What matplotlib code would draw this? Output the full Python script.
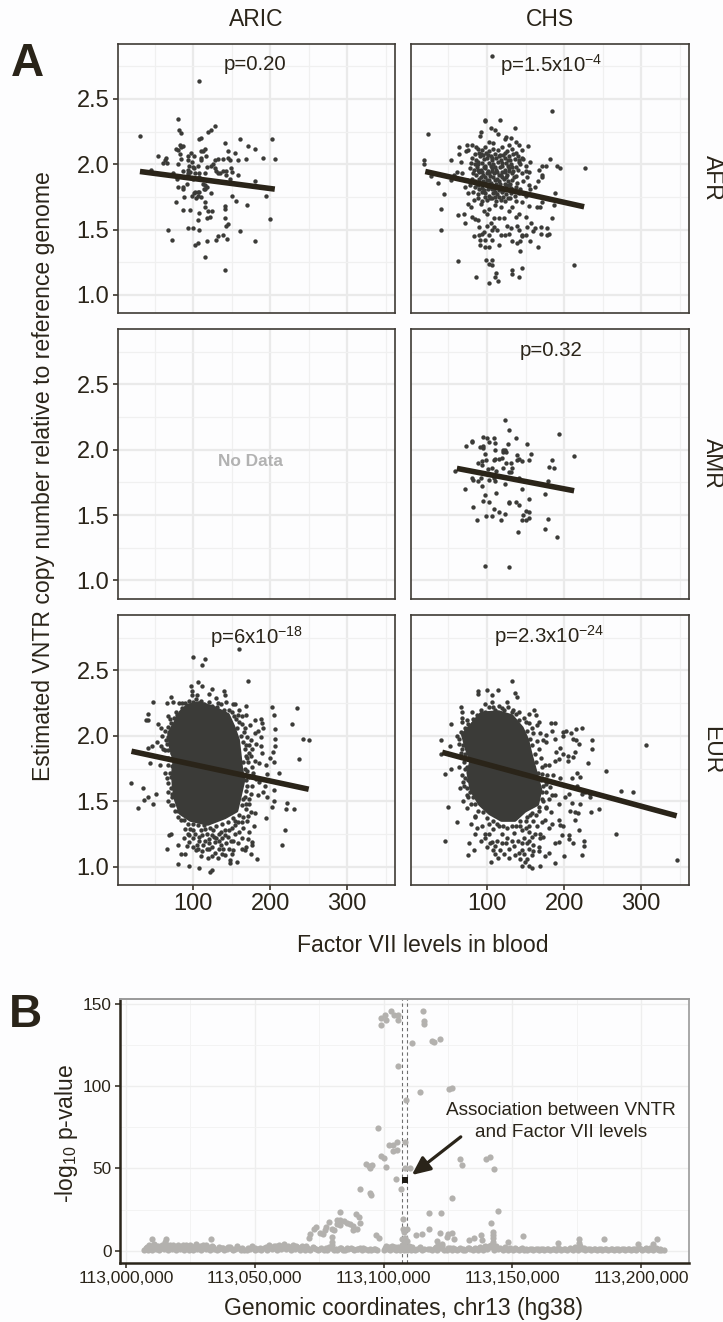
import numpy as np
import matplotlib
matplotlib.use('Agg')
import matplotlib.pyplot as plt

plt.rcParams['font.family'] = ['Liberation Sans', 'DejaVu Sans']
plt.rcParams['mathtext.default'] = 'regular'

W, H = 723, 1322
BG = '#fdfdfe'
INK = '#2a2419'
DOT = '#3b3b38'
GREY = '#b3b1ae'

# Panel A values: (factor VII, copy number)
afr_aric = [(107,2.64),(81,2.35),(129,2.29),(123,2.26),(119,2.25),(82,2.26),(84,2.24),(31,2.22),(110,2.20),(108,2.19),
    (142,2.16),(161,2.19),(203,2.19),(171,2.14),(180,2.12),(83,2.15),(87,2.14),(84,2.13),(78,2.12),(81,2.11),
    (116,2.12),(110,2.10),(113,2.10),(145,2.10),(155,2.09),(83,2.08),(97,2.09),(101,2.06),(94,2.06),(54,2.06),
    (65,2.05),(64,2.03),(61,2.01),(66,2.01),(117,2.06),(110,2.05),(110,2.03),(84,2.04),(191,2.05),(206,2.04),
    (168,2.04),(158,2.03),(148,2.03),(145,2.05),(139,2.04),(132,2.04),(128,2.03),(126,2.0),(123,1.99),(128,1.97),
    (130,1.95),(132,1.93),(94,2.03),(98,2.02),(80,2.0),(95,1.99),(100,1.98),(106,1.99),(118,1.98),(87,1.95),
    (93,1.96),(96,1.94),(101,1.97),(94,1.93),(102,1.93),(74,1.93),(45,1.96),(139,1.95),(143,1.95),(149,1.97),
    (150,1.94),(135,1.93),(143,1.92),(158,1.92),(148,1.89),(108,1.93),(115,1.93),(108,1.90),(100,1.89),(93,1.92),
    (79,1.89),(88,1.90),(180,1.87),(116,1.84),(113,1.85),(118,1.83),(114,1.81),(106,1.79),(92,1.85),(87,1.83),
    (81,1.83),(87,1.81),(102,1.79),(101,1.78),(108,1.79),(106,1.76),(110,1.75),(98,1.76),(104,1.74),(116,1.81),
    (123,1.78),(88,1.75),(78,1.71),(150,1.76),(195,1.76),(156,1.72),(170,1.69),(116,1.71),(116,1.67),(119,1.64),
    (125,1.64),(107,1.63),(87,1.65),(96,1.65),(141,1.68),(142,1.66),(141,1.59),(122,1.60),(118,1.59),(106,1.57),
    (200,1.58),(145,1.54),(143,1.53),(67,1.50),(94,1.51),(100,1.51),(107,1.50),(161,1.49),(72,1.42),(132,1.45),
    (139,1.46),(144,1.43),(130,1.42),(118,1.41),(180,1.41),(106,1.40),(103,1.38),(116,1.29),(142,1.19)]

afr_chs = [(107,2.83),(184,2.41),(97,2.34),(98,2.33),(117,2.34),(105,2.28),(110,2.26),(114,2.23),(136,2.28),(92,2.25),
    (91,2.22),(24,2.23),(125,2.21),(131,2.20),(124,2.19),(103,2.17),(108,2.16),(128,2.15),(138,2.17),(141,2.15),
    (153,2.14),(146,2.11),(64,2.13),(74,2.15),(80,2.15),(86,2.13),(64,2.08),(73,2.10),(76,2.11),
    (53,2.03),(18,2.03),(18,2.0),(66,2.02),(156,2.02),(147,2.04),(142,2.03),(150,1.99),(150,1.95),
    (182,2.04),(191,1.99),(195,1.97),(227,1.97),(172,1.99),(176,1.99),(167,1.96),(172,1.92),(171,1.90),(166,1.87),
    (154,1.94),(152,1.90),(61,1.94),(27,1.91),(36,1.86),(53,1.88),(57,1.92),(68,1.93),(44,1.77),(41,1.66),
    (41,1.50),(63,1.26),(213,1.23),(62,1.61),(154,1.84),(162,1.83),(156,1.81),(188,1.78),(187,1.69),(172,1.71),
    (165,1.67),(169,1.67),(184,1.59),(154,1.68),(70,1.62),(72,1.55),(75,1.70),(79,1.67),(81,1.60),(85,1.58),
    (88,1.57),(109,1.59),(116,1.59),(122,1.59),(100,1.62),(128,1.64),(137,1.60),(141,1.62),(133,1.67),(118,1.67),
    (111,1.69),(96,1.64),(103,1.66),(92,1.70),(150,1.60),(157,1.55),(162,1.51),(170,1.52),(178,1.51),(180,1.47),
    (178,1.46),(170,1.47),(160,1.49),(90,1.52),(96,1.48),(100,1.53),(105,1.55),(109,1.52),(113,1.50),(118,1.46),
    (107,1.50),(102,1.46),(83,1.45),(90,1.46),(94,1.47),(98,1.42),(91,1.42),(107,1.42),(115,1.38),(91,1.38),
    (97,1.37),(102,1.37),(126,1.53),(131,1.51),(128,1.47),(124,1.46),(139,1.53),(141,1.50),(146,1.45),(152,1.52),
    (150,1.46),(133,1.41),(139,1.40),(143,1.41),(156,1.41),(146,1.46),(166,1.37),(143,1.34),(99,1.27),(107,1.27),
    (102,1.24),(107,1.23),(86,1.14),(112,1.17),(111,1.14),(102,1.09),(114,1.11),(132,1.19),(132,1.16),(141,1.14),(146,1.21),
    (88,2.12),(93,2.11),(97,2.13),(102,2.10),(108,2.12),(114,2.11),(120,2.13),(126,2.10),(132,2.12),(137,2.09),
    (84,2.08),(90,2.09),(95,2.07),(99,2.09),(105,2.06),(110,2.08),(117,2.07),(123,2.09),(129,2.06),(134,2.08),(140,2.06),(146,2.05),
    (81,2.05),(86,2.03),(91,2.06),(96,2.04),(100,2.05),(106,2.03),(112,2.05),(118,2.03),(124,2.05),(130,2.03),(136,2.04),(141,2.02),
    (79,2.01),(84,2.0),(89,2.02),(94,2.01),(98,1.99),(103,2.01),(108,2.0),(114,2.02),(120,1.99),(125,2.01),(131,2.0),(137,1.98),(143,2.0),
    (78,1.97),(83,1.96),(87,1.98),(92,1.96),(97,1.97),(101,1.95),(106,1.97),(112,1.96),(117,1.98),(123,1.96),(128,1.97),(134,1.95),(140,1.96),
    (82,1.93),(86,1.92),(90,1.94),(95,1.92),(100,1.93),(104,1.91),(109,1.93),(115,1.92),(120,1.94),(126,1.92),(132,1.93),(138,1.91),(145,1.93),
    (74,1.88),(80,1.89),(85,1.87),(90,1.89),(95,1.87),(100,1.88),(105,1.86),(110,1.88),(116,1.87),(122,1.89),(127,1.87),(133,1.88),(139,1.86),(147,1.87),
    (72,1.83),(78,1.84),(84,1.83),(89,1.84),(94,1.82),(99,1.84),(104,1.83),(109,1.81),(114,1.83),(120,1.82),(125,1.84),(131,1.82),(137,1.83),(143,1.81),
    (76,1.78),(82,1.79),(88,1.77),(93,1.79),(98,1.78),(103,1.76),(108,1.78),(113,1.77),(119,1.79),(125,1.77),(131,1.78),(136,1.76),(142,1.78),(150,1.76),
    (83,1.73),(88,1.74),(94,1.72),(100,1.73),(106,1.74),(112,1.72),(118,1.73),(124,1.72),(130,1.74),(138,1.72),(145,1.71),
    (92,2.08),(101,2.07),(107,2.05),(115,2.06),(121,2.07),(127,2.03),(88,2.0),(96,1.98),(105,1.99),(111,1.98),(119,2.01),
    (127,1.99),(133,1.98),(89,1.96),(94,1.94),(102,1.93),(107,1.95),(113,1.94),(118,1.92),(124,1.94),(129,1.95),(135,1.9),
    (92,1.9),(98,1.9),(103,1.88),(108,1.9),(113,1.89),(119,1.9),(125,1.9),(130,1.85),(87,1.85),(92,1.85),(97,1.86),(102,1.85),
    (107,1.84),(112,1.85),(117,1.85),(123,1.85),(128,1.84),(96,1.8),(101,1.81),(106,1.81),(111,1.79),(116,1.8),(122,1.8),
    (128,1.8),(134,1.8),(90,1.81),(97,1.75),(104,1.74),(110,1.75),(116,1.75),(121,1.75),(127,1.74)]

amr_chs = [(123,2.23),(128,2.15),(193,2.12),(138,2.09),(95,2.10),(100,2.09),(109,2.09),(81,2.07),(81,2.06),(73,2.03),
    (102,2.06),(110,2.05),(127,2.04),(152,2.04),(95,2.03),(91,2.02),(95,2.01),(110,2.0),(121,2.0),(124,2.0),
    (121,1.98),(125,1.98),(98,1.97),(157,1.97),(213,1.95),(139,1.96),(141,1.93),(139,1.92),(146,1.91),(155,1.92),
    (184,1.92),(181,1.87),(187,1.86),(99,1.92),(94,1.91),(89,1.90),(93,1.88),(109,1.92),(110,1.93),(115,1.93),
    (119,1.94),(125,1.90),(131,1.90),(101,1.85),(107,1.86),(112,1.84),(121,1.86),(133,1.86),(128,1.83),(131,1.83),
    (59,1.84),(80,1.78),(82,1.77),(88,1.76),(92,1.78),(103,1.77),(109,1.78),(111,1.76),(124,1.74),(142,1.78),
    (179,1.76),(71,1.70),(93,1.72),(112,1.67),(146,1.70),(175,1.66),(98,1.65),(95,1.61),(103,1.60),(82,1.56),
    (109,1.55),(128,1.59),(129,1.60),(138,1.60),(142,1.58),(154,1.62),(116,1.52),(123,1.51),(150,1.53),(155,1.52),
    (147,1.50),(99,1.49),(106,1.49),(87,1.46),(118,1.46),(145,1.46),(150,1.46),(155,1.48),(179,1.47),(140,1.37),
    (175,1.39),(191,1.33),(98,1.11),(129,1.10)]

eur_aric = [(159,2.66),(100,2.60),(116,2.59),(111,2.54),(171,2.42),(106,2.41),(111,2.38),(97,2.38),(124,2.36),(140,2.34),
    (142,2.31),(98,2.34),(98,2.31),(105,2.31),(71,2.30),(121,2.32),(130,2.29),(48,2.26),(66,2.25),(74,2.26),
    (82,2.25),(132,2.25),(143,2.26),(152,2.24),(155,2.24),(168,2.23),(160,2.20),(203,2.22),(235,2.21),(205,2.16),
    (42,2.17),(41,2.12),(39,2.12),(228,2.09),(164,2.15),(168,2.16),(156,2.13),(188,2.13),(190,2.10),(180,2.12),
    (78,2.18),(67,2.15),(54,2.09),(58,2.06),(174,2.08),(167,2.06),(184,2.04),(191,2.06),(206,2.05),(206,1.98),
    (243,1.98),(250,1.97),(188,1.99),(180,2.02),(175,1.97),(182,1.94),(177,1.90),(169,1.93),(173,1.87),(188,1.92),
    (206,1.92),(204,1.88),(189,1.87),(200,1.83),(205,1.80),(237,1.82),(180,1.81),(186,1.79),(194,1.78),(171,1.80),
    (167,1.75),(211,1.72),(196,1.71),(53,1.95),(41,1.91),(47,1.92),(58,1.92),(65,1.97),(61,1.90),(67,1.89),
    (44,1.79),(57,1.78),(67,1.78),(64,1.72),(71,1.69),(67,1.64),(20,1.64),(35,1.60),(52,1.56),(41,1.53),
    (36,1.51),(48,1.48),(28,1.45),(67,1.50),(73,1.56),(71,1.47),(76,1.43),(80,1.38),(169,1.66),(177,1.69),
    (186,1.65),(193,1.62),(191,1.57),(184,1.55),(196,1.53),(205,1.59),(205,1.50),(203,1.46),(222,1.49),(221,1.44),
    (231,1.44),(195,1.37),(219,1.28),(215,1.17),(180,1.41),(171,1.39),(173,1.48),(167,1.53),(164,1.34),(179,1.31),
    (173,1.27),(171,1.21),(177,1.19),(177,1.17),(169,1.15),(164,1.14),(175,1.10),(183,1.06),(157,1.04),(148,1.05),
    (148,1.03),(71,1.25),(69,1.24),(66,1.14),(81,1.17),(84,1.10),(90,1.10),(81,1.02),(95,1.01),(107,0.99),
    (125,0.98),(122,0.96),(141,1.09),(132,1.07),(119,1.07),(110,1.08),(106,1.14),(104,1.13),(95,1.19),(89,1.29),
    (93,1.25),(100,1.28),(108,1.23),(115,1.20),(121,1.18),(128,1.19),(134,1.20),(143,1.18),(149,1.20),(154,1.25),
    (147,1.28),(136,1.27),(126,1.28),(115,1.29),(106,1.32),(154,1.32),(128,1.11),(121,1.14),(113,1.17),(139,1.14),
    (108,1.20),(163,1.22),(167,1.13),
    (85,2.21),(90,2.25),(95,2.27),(100,2.26),(104,2.28),(110,2.27),(114,2.24),(120,2.26),(125,2.23),(131,2.22),(136,2.24),
    (140,2.2),(146,2.2),(150,2.18),(153,2.15),(158,2.16),(160,2.11),(163,2.09),(157,2.06),(166,2.03),(162,2.0),(170,1.99),
    (165,1.95),(172,1.93),(167,1.9),(175,1.85),(168,1.85),(170,1.83),(165,1.8),(176,1.76),(170,1.73),(178,1.72),(172,1.69),
    (182,1.67),(170,1.62),(177,1.62),(168,1.58),(175,1.56),(165,1.52),(172,1.52),(163,1.47),(168,1.44),(160,1.4),(165,1.38),
    (152,1.37),(158,1.34),(145,1.34),(150,1.3),(138,1.33),(142,1.28),(130,1.31),(133,1.25),(122,1.3),(124,1.24),(114,1.32),
    (110,1.28),(100,1.33),(103,1.25),(93,1.33),(96,1.29),(88,1.36),(84,1.36),(80,1.43),(74,1.47),(72,1.53),(68,1.57),(71,1.6),
    (66,1.68),(70,1.72),(72,1.77),(68,1.83),(72,1.87),(64,1.89),(66,1.94),(68,1.99),(60,2.0),(64,2.04),(67,2.07),(71,2.1),
    (75,2.14),(79,2.16),(70,2.13),(85,2.25),
    (100,1.22),(112,1.24),(118,1.25),(130,1.22),(138,1.22),(145,1.23),(152,1.2),(158,1.18),(105,1.17),(118,1.14),(125,1.15),
    (133,1.14),(146,1.14),(152,1.13),(125,1.08),(112,1.12),(136,1.17),(120,1.21),(127,1.23),(95,1.24),(88,1.22),(92,1.16),
    (100,1.15),(138,1.1),(150,1.1),(160,1.27),(165,1.3),(142,1.24),(155,1.35),(170,1.35),(175,1.42),(168,1.48)]

eur_chs = [(133,2.42),(100,2.35),(114,2.35),(89,2.34),(89,2.32),(136,2.33),(139,2.30),(107,2.31),(107,2.26),(97,2.24),
    (126,2.26),(66,2.22),(67,2.18),(67,2.14),(67,2.11),(53,2.09),(81,2.18),(87,2.16),(108,2.22),(119,2.21),
    (134,2.20),(141,2.18),(154,2.17),(161,2.20),(164,2.16),(167,2.11),(150,2.11),(183,2.10),(188,2.10),(165,2.08),
    (184,2.04),(177,2.01),(169,2.02),(199,2.03),(202,2.04),(209,2.02),(216,2.05),(223,2.06),(198,2.0),(216,1.97),
    (211,1.98),(219,1.94),(188,1.98),(177,1.95),(173,1.97),(236,1.97),(236,1.90),(214,1.88),(195,1.91),(189,1.88),
    (199,1.86),(205,1.85),(205,1.81),(212,1.84),(193,1.82),(188,1.81),(180,1.78),(175,1.78),(231,1.79),(41,1.97),
    (52,1.92),(61,2.0),(64,1.94),(67,1.90),(41,1.86),(53,1.75),(45,1.71),(64,1.76),(71,1.75),(76,1.66),
    (69,1.65),(65,1.60),(74,1.55),(78,1.57),(69,1.50),(79,1.48),(74,1.45),(50,1.46),(61,1.34),(79,1.33),
    (85,1.38),(84,1.39),(87,1.30),(84,1.25),(46,1.20),(77,1.18),(76,1.09),(83,1.13),(97,1.25),(97,1.22),
    (93,1.31),(102,1.33),(108,1.29),(113,1.33),(121,1.31),(132,1.31),(143,1.31),(154,1.27),(152,1.38),(158,1.41),
    (171,1.34),(184,1.33),(195,1.32),(199,1.31),(193,1.36),(183,1.42),(177,1.46),(167,1.46),(173,1.50),(188,1.55),
    (193,1.48),(201,1.53),(206,1.56),(210,1.49),(221,1.48),(214,1.42),(208,1.43),(218,1.41),(214,1.36),(235,1.42),
    (245,1.44),(219,1.28),(197,1.24),(206,1.24),(206,1.21),(211,1.18),(226,1.20),(226,1.16),(223,1.09),(200,1.08),
    (188,1.03),(188,1.18),(193,1.19),(175,1.08),(180,1.11),(167,1.15),(167,1.12),(159,1.09),(152,1.06),(149,1.04),
    (145,1.01),(154,1.01),(158,0.99),(169,1.01),(105,1.04),(114,1.07),(129,1.07),(141,1.11),(132,1.20),(126,1.22),
    (117,1.13),(108,1.13),(119,1.18),(104,1.18),(106,1.19),(145,1.18),(152,1.18),(145,1.13),(160,1.17),(169,1.22),
    (173,1.23),(169,1.25),(158,1.23),(255,1.73),(306,1.93),(274,1.58),(290,1.57),(267,1.25),(346,1.05),(217,1.72),
    (221,1.69),(210,1.68),(195,1.68),(186,1.70),(217,1.62),(227,1.57),(234,1.53),(234,1.56),(223,1.56),(171,1.71),
    (175,1.67),(173,1.62),(177,1.57),(184,1.55),(182,1.61),
    (82,2.1),(86,2.13),(92,2.2),(97,2.18),(102,2.22),(110,2.2),(115,2.23),(122,2.2),(127,2.22),(132,2.18),(138,2.17),(142,2.12),
    (148,2.14),(154,2.1),(158,2.06),(152,2.04),(160,2.02),(156,1.98),(165,1.96),(158,1.93),(168,1.9),(162,1.86),(170,1.83),
    (163,1.8),(172,1.76),(166,1.72),(178,1.7),(170,1.66),(176,1.63),(172,1.57),(180,1.52),(171,1.52),(176,1.45),(168,1.43),
    (164,1.4),(156,1.4),(160,1.35),(150,1.35),(154,1.31),(143,1.35),(145,1.28),(137,1.31),(126,1.3),(115,1.31),(108,1.35),
    (100,1.37),(95,1.42),(88,1.43),(84,1.48),(82,1.53),(76,1.53),(74,1.6),(70,1.62),(72,1.68),(68,1.7),(74,1.76),(70,1.8),
    (76,1.83),(72,1.86),(66,1.87),(69,1.93),(64,1.98),(66,2.03),(72,2.06),(76,2.09),(82,2.13),(74,2.12),(90,2.15),
    (100,1.15),(110,1.16),(113,1.2),(125,1.18),(128,1.14),(135,1.16),(140,1.2),(148,1.22),(155,1.2),(122,1.1),(136,1.09),
    (148,1.1),(110,1.1),(120,1.25),(135,1.26),(150,1.3),(162,1.25),(165,1.31),(175,1.36),(180,1.3),(160,1.12),(143,1.06),
    (155,1.14),(103,1.25),(92,1.2)]

# outline of the solid part of the two EUR clouds, single dots cannot be told apart there
eur_aric_core = [(93,2.23),(108,2.25),(128,2.21),(145,2.16),(152,2.07),(158,1.97),(160,1.87),(162,1.76),(165,1.66),(160,1.53),
    (156,1.43),(141,1.38),(119,1.33),(97,1.36),(84,1.41),(78,1.51),(75,1.61),(74,1.71),(76,1.81),(71,1.92),
    (69,2.02),(76,2.09),(84,2.18)]
eur_chs_core = [(93,2.17),(115,2.18),(132,2.15),(145,2.06),(152,1.97),(156,1.87),(162,1.74),(169,1.59),(165,1.48),(149,1.43),
    (136,1.36),(119,1.36),(104,1.41),(91,1.48),(80,1.59),(76,1.72),(80,1.81),(74,1.90),(69,2.01),(80,2.08)]

# regression lines, end points
afr_aric_fit = [(31,1.945),(206,1.81)]
afr_chs_fit = [(20,1.945),(226,1.675)]
amr_chs_fit = [(61,1.857),(213,1.686)]
eur_aric_fit = [(20,1.883),(250,1.593)]
eur_chs_fit = [(42,1.875),(346,1.39)]

cohorts = ['ARIC', 'CHS']
ancestries = ['AFR', 'AMR', 'EUR']
a_xticks = [100, 200, 300]
a_yticks = [1.0, 1.5, 2.0, 2.5]

# Panel B values: (kb after 113,000,000, -log10 p)
assoc_top = [(103,146),(100.6,143),(99,141.7),(100.9,140.5),(99,137.4),(103.9,143.5),(105.6,143),(105.6,140.5),
    (115.4,145.5),(115.7,139.7),(115.7,138),(111,126.3),(118.7,127.3),(119.6,126.9),(121.9,128.5),(105.6,112.1),
    (114.2,96.6),(125.5,98),(126.6,99),(108.8,91.9),(97.7,74.3),(108.4,66.2),(105.4,66),(103.6,64.4),(102.3,64.2),
    (105.2,61.1),(103.6,60.7),(99,57.5),(100.3,56.1),(101,50.8),(93.1,52.8),(94.2,51.6),(95.5,52),(94.6,50.4),
    (108.3,50),(110.1,50),(105,43.3),(90.7,37.4),(94.8,35.2),(95.3,33.8),(106.6,37.7),(129.8,55.5),(130.4,52.2),
    (139.6,55.5),(141.5,57.1),(143,49.4),(126.7,32),(117.6,22.7),(122.5,23.1),(144.6,24.1),(141.8,17),(117.6,13),
    (114.8,10.1),(112.8,9.3),(122,10.5),(124.9,9.9),(126.4,10.5),(124.7,8.5),(127.3,7.3),(120.9,5.7),(122.9,4),
    (133.2,6.3),(135,7.7),(137.8,9.7),(138.1,6.3),(142.4,11.5),(142.4,9.5),(142.6,7.5),(142.4,5.5),(148.4,5.1),
    (154,9.1),(167.6,4.9),(176,7.1),(176,4.9),(185.5,7.1),(198.7,4),(206.1,6.9),(204.5,3.8),(96.9,9.7),(98.2,7.5),
    (83.2,23.5),(89.4,22.3),(90.3,20.6),(90.7,16.6),(79,17.4),(82.1,18.6),(83.2,18.6),(84.5,18.2),(85.8,17),
    (81.9,16.2),(83.2,15.6),(87,16.2),(88.1,15),(88.3,12.6),(89.9,13),(77.7,14.2),(77.3,12.6),(79.9,13),(80.8,12.6),
    (73.8,14.2),(73.1,13),(75.4,10.9),(76.4,9.9),(71.5,10.1),(71,7.7),(79.9,8.1),(79.9,5.5),(107.4,19),(107.4,13),
    (109.1,13),(108,11.5),(108.4,7.5),(107.1,6.9),(109.1,6.1),(32.9,7.1),(10,6.9),(15.4,7.3),(15.2,5.5)]

assoc_base = [(7,0.3),(7.8,1.6),(8.6,0.6),(9.4,2.9),(10.1,0.2),(10.8,4.2),(11.5,1),(12.3,2.6),(13,0.4),(13.9,3.4),(14.6,0.8),
    (15.5,2.2),(16.3,0.3),(17.1,3.7),(17.9,0.9),(18.7,2.5),(19.5,0.4),(20.3,3.2),(21.1,1),(21.9,2.1),(22.7,0.3),(23.5,3.6),
    (24.3,0.7),(25.1,2.4),(25.9,0.5),(26.8,3.1),(27.6,0.9),(28.4,1.9),(29.2,0.3),(30,3.4),(30.9,0.8),(31.7,2.3),(32.5,0.4),
    (33.3,2.9),(34.1,0.9),(35.2,0.3),(36.3,0.8),(37.2,1.9),(38.2,0.4),(39.3,1),(40.4,2.4),(41.4,0.3),(42.5,0.9),(43.6,1.7),
    (44.7,0.4),(45.8,0.7),(46.9,0.2),(48,1),(49.1,2.7),(50.2,0.4),(51.3,0.8),(52.4,0.3),(53.5,1.8),(54.6,0.6),(55.6,3.3),
    (56.6,0.9),(57.6,2.6),(58.5,0.3),(59.4,3.7),(60.3,0.8),(61.2,4.1),(62.1,1.2),(63,2.8),(63.9,0.4),(64.8,3.4),(65.7,0.9),
    (66.6,2.3),(67.5,0.3),(68.4,3),(69.4,0.7),(70.4,1.9),(71.4,0.3),(72.5,2.2),(73.6,0.8),(74.7,0.3),(75.8,1.8),(76.9,0.7),
    (78,0.3),(79,2.4),(79.9,3.4),(80.9,0.6),(82,0.3),(83,1.6),(84.1,0.7),(85.2,0.2),(86.3,0.9),(87.4,1.7),(88.5,0.4),(89.6,0.8),
    (90.7,1.9),(91.8,0.3),(92.9,1),(94,0.4),(95.1,0.2),(96.2,0.9),(97.3,0.4),(100.3,0.5),(100.9,2.8),(101.6,1.2),(102.4,0.3),
    (103.2,3.1),(104,1),(104.9,0.4),(105.7,2.2),(106.5,0.6),(107.3,3.6),(107.9,0.3),(108.5,2),(109.2,0.7),(109.9,3),(110.7,0.4),
    (111.5,1.3),(112.3,0.3),(113.1,1),(114,2.2),(114.8,0.4),(115.6,0.9),(117.2,1.3),(119,0.3),(119.9,1.5),(120.7,0.5),(121.5,2.6),
    (122.3,1.5),(123.6,0.3),(124.7,0.7),(125.7,1.6),(126.7,0.4),(127.7,1),(128.7,0.3),(129.7,1.5),(130.7,0.7),(131.7,0.3),
    (132.7,1.6),(133.7,0.8),(134.7,0.3),(135.7,1.7),(136.7,0.6),(137.6,2.4),(138.5,0.4),(139.4,2.9),(140.3,0.9),(141.2,2),
    (142,3.4),(142.8,0.5),(143.6,2.7),(144.4,0.8),(145.3,1.7),(146.2,0.3),(147.2,2.2),(148.2,0.6),(149.2,1.4),(150.3,0.3),
    (151.4,0.9),(152.5,0.3),(153.6,1.5),(154.7,0.6),(155.8,0.2),(156.9,0.9),(158,0.3),(159.1,1),(160.2,0.3),(161.3,0.8),
    (162.4,0.2),(163.5,1),(164.6,0.4),(165.7,0.8),(166.8,0.2),(167.9,1.6),(169,0.5),(170.1,0.9),(171.2,0.3),(172.3,1.4),
    (173.4,0.4),(174.5,2),(175.6,0.7),(176.4,2.9),(177.2,1),(178.3,0.4),(179.4,1.3),(180.5,0.3),(181.6,0.9),(182.7,0.2),
    (183.8,1),(184.9,0.3),(186,0.8),(187.1,0.3),(188.2,1.1),(189.3,0.4),(190.4,0.8),(191.5,0.2),(192.6,1.2),(193.7,0.4),
    (194.8,0.9),(195.9,0.2),(197,1.3),(198.1,0.5),(199.2,1.9),(200.3,0.3),(201.4,0.9),(202.5,0.2),(203.6,1.4),(204.7,0.4),
    (205.8,1.8),(206.9,0.6),(207.8,0.2),(208.8,0.5),
    (8,2.2),(9,3.4),(10.5,1.4),(11.8,3),(13.2,2),(14.2,1.6),(15.8,3.4),(16.8,1.8),(18.2,3.3),(19.2,1.5),(20.8,2.4),(22,3.6),
    (23,1.7),(24.8,3.5),(26.2,1.8),(27.2,3.8),(28.8,3),(29.8,1.7),(31.2,3.2),(32.2,1.6),(33.8,2.4),(36,2),(37.8,1.4),(39.8,2.2),
    (41,1.3),(43,2.6),(45,1.6),(47.2,1.5),(50,1.7),(52,1.5),(54.5,2.4),(55,1.5),(57,1.5),(58.2,3),(60,2),(61,3),(62.6,2),(64.5,1.6),
    (66,3),(67.8,1.6),(69.8,2.7),(71,1.3),(73,1.5),(75.5,1),(77.5,1.4),(79.5,1.5),(81.5,1.3),(83.6,1.5),(86,1.5),(88,1.3),(90,1.2),
    (92.2,1.5),(94.6,1.2),(96.7,1.1),(100.5,1.6),(102,2.2),(103.6,2),(104.5,2.4),(106.1,1.5),(107,2),(108,4),(110.3,2),(111,2.4),
    (114.3,1.5),(118,1),(120.3,2.3),(121,3.6),(122.8,2.8),(125,1.8),(127,1.5),(129.2,1.2),(131,1.2),(133.2,1.5),(135.2,1.2),(137,1.6),
    (139,1.7),(140.8,2.8),(141.6,3.2),(142.4,2),(144,1.6),(146.8,1.2),(148.8,1.2),(151,1.4),(153,1),(155.2,1.2),(157.5,1),(160,1.2),
    (162,1.1),(164,1.2),(166.2,1.2),(168.4,1),(170.6,1.3),(172.8,1),(175,1.4),(177.8,1.8),(180,1),(182,1.2),(184.3,1),(186.5,1.2),
    (188.8,1),(191,1.1),(193.2,1),(195.4,1.2),(197.6,1.2),(199.8,1.1),(201.9,1.4),(204,1.1),(206.3,1),(207.3,1)]

vntr_point = (108.2, 42.8)
dashed_kb = [107.3, 109.2]
b_xticks_kb = [0, 50, 100, 150, 200]
b_xlabels = ['113,000,000', '113,050,000', '113,100,000', '113,150,000', '113,200,000']
b_yticks = [0, 50, 100, 150]


def px_axes(fig, left, top, right, bottom):
    return fig.add_axes([left / W, 1 - bottom / H, (right - left) / W, (bottom - top) / H])


def put(fig, x, y, s, **kw):
    kw.setdefault('ha', 'center')
    kw.setdefault('va', 'center')
    fig.text(x / W, 1 - y / H, s, color=kw.pop('color', INK), **kw)


def dots(ax, pts, core=None, fit=None):
    if core is not None:
        cx, cy = zip(*core)
        ax.fill(cx, cy, facecolor=DOT, edgecolor=DOT, lw=3, joinstyle='round', zorder=2)
    if pts:
        x, y = zip(*pts)
        ax.scatter(x, y, s=10, color=DOT, linewidths=0, zorder=3)
    if fit is not None:
        fx, fy = zip(*fit)
        ax.plot(fx, fy, color=INK, lw=4, solid_capstyle='butt', zorder=4)


def style_a(ax, row, col):
    ax.set_facecolor(BG)
    ax.set_xlim(2, 362)
    ax.set_ylim(0.862, 2.923)
    ax.set_xticks(a_xticks)
    ax.set_yticks(a_yticks)
    ax.set_xticks([50, 150, 250, 350], minor=True)
    ax.set_yticks([1.25, 1.75, 2.25, 2.75], minor=True)
    ax.grid(which='major', color='#eaeaea', lw=1.6, zorder=0)
    ax.grid(which='minor', color='#f0f0f0', lw=0.9, zorder=0)
    ax.set_axisbelow(True)
    ax.tick_params(which='minor', length=0)
    ax.tick_params(which='major', length=3.5, width=1.1, color=INK, labelsize=17, labelcolor=INK, pad=2.5)
    ax.tick_params(axis='x', labelbottom=row == 2, bottom=row == 2)
    ax.tick_params(axis='y', labelleft=col == 0, left=col == 0)
    ax.set_yticklabels(['1.0', '1.5', '2.0', '2.5'] if col == 0 else [])
    for sp in ax.spines.values():
        sp.set_color('#3f3b35')
        sp.set_linewidth(1.2)


fig = plt.figure(figsize=(W / 100, H / 100), dpi=100, facecolor=BG)

col_px = [(117.6, 395), (411.4, 689)]
row_px = [(43.7, 313), (329, 598.5), (615, 885)]
panels = {
    (0, 0): (afr_aric, None, afr_aric_fit),
    (0, 1): (afr_chs, None, afr_chs_fit),
    (1, 0): ([], None, None),
    (1, 1): (amr_chs, None, amr_chs_fit),
    (2, 0): (eur_aric, eur_aric_core, eur_aric_fit),
    (2, 1): (eur_chs, eur_chs_core, eur_chs_fit),
}
for (r, c), (pts, core, fit) in panels.items():
    ax = px_axes(fig, col_px[c][0], row_px[r][0], col_px[c][1], row_px[r][1])
    style_a(ax, r, c)
    dots(ax, pts, core, fit)

put(fig, 256, 20, cohorts[0], fontsize=16.5)
put(fig, 550, 20, cohorts[1], fontsize=16.5)
for name, cy in zip(ancestries, [178, 463.5, 750]):
    put(fig, 712, cy, name, fontsize=16.5, rotation=-90)

put(fig, 255, 65, 'p=0.20', fontsize=14.7)
put(fig, 551, 65, 'p=1.5x10$^{-4}$', fontsize=14.7)
put(fig, 551, 351, 'p=0.32', fontsize=14.7)
put(fig, 257, 637, 'p=6x10$^{-18}$', fontsize=14.7)
put(fig, 549, 636, 'p=2.3x10$^{-24}$', fontsize=14.7)
put(fig, 250, 461, 'No Data', fontsize=12.4, fontweight='bold', color='#b2b2b2')

put(fig, 44, 476, 'Estimated VNTR copy number relative to reference genome', fontsize=16.6, rotation=90)
put(fig, 423, 945, 'Factor VII levels in blood', fontsize=16.6)
put(fig, 27, 64, 'A', fontsize=33, fontweight='bold')
put(fig, 25, 1015, 'B', fontsize=33, fontweight='bold')

# Panel B
axb = px_axes(fig, 120, 999, 689, 1262.7)
axb.set_facecolor(BG)
axb.set_xlim(112997700, 113218600)
axb.set_ylim(-7.3, 153)
b_xticks = [113000000 + k * 1000 for k in b_xticks_kb]
axb.set_xticks(b_xticks)
axb.set_xticklabels(b_xlabels)
axb.set_yticks(b_yticks)
axb.set_xticks([113025000, 113075000, 113125000, 113175000], minor=True)
axb.set_yticks([25, 75, 125], minor=True)
axb.grid(which='major', color='#eeeeee', lw=1.0, zorder=0)
axb.grid(which='minor', color='#f3f3f3', lw=0.7, zorder=0)
axb.set_axisbelow(True)
axb.tick_params(which='minor', length=0)
axb.tick_params(which='major', length=3.5, width=1.1, color=INK, labelcolor=INK, pad=2.5)
axb.tick_params(axis='x', labelsize=12.6)
axb.tick_params(axis='y', labelsize=12.4)
for side, col, lw in [('left', INK, 1.8), ('bottom', INK, 1.8), ('top', '#9a9a9a', 1.4), ('right', '#9a9a9a', 1.2)]:
    axb.spines[side].set_color(col)
    axb.spines[side].set_linewidth(lw)

for k in dashed_kb:
    axb.axvline(113000000 + k * 1000, color='#6f6f6f', lw=0.8, ls=(0, (3, 2.5)), zorder=2)
bx, by = zip(*(assoc_base + assoc_top))
axb.scatter([113000000 + k * 1000 for k in bx], by, s=20, color=GREY, linewidths=0, zorder=3)
axb.scatter([113000000 + vntr_point[0] * 1000], [vntr_point[1]], s=24, marker='s', color='#1d1a14', linewidths=0, zorder=5)
axb.annotate('', xy=(113111000, 46), xytext=(113130000, 69.2),
             arrowprops=dict(arrowstyle='-|>,head_length=1.1,head_width=0.5', color=INK, lw=2.3, shrinkA=0, shrinkB=0), zorder=6)

put(fig, 561, 1121.5, 'Association between VNTR\nand Factor VII levels', fontsize=13.7, linespacing=1.4)
put(fig, 66, 1133, '-log$_{10}$ p-value', fontsize=16.5, rotation=90)
put(fig, 404, 1308, 'Genomic coordinates, chr13 (hg38)', fontsize=16.5)

fig.savefig('out.png', dpi=100, facecolor=BG)
